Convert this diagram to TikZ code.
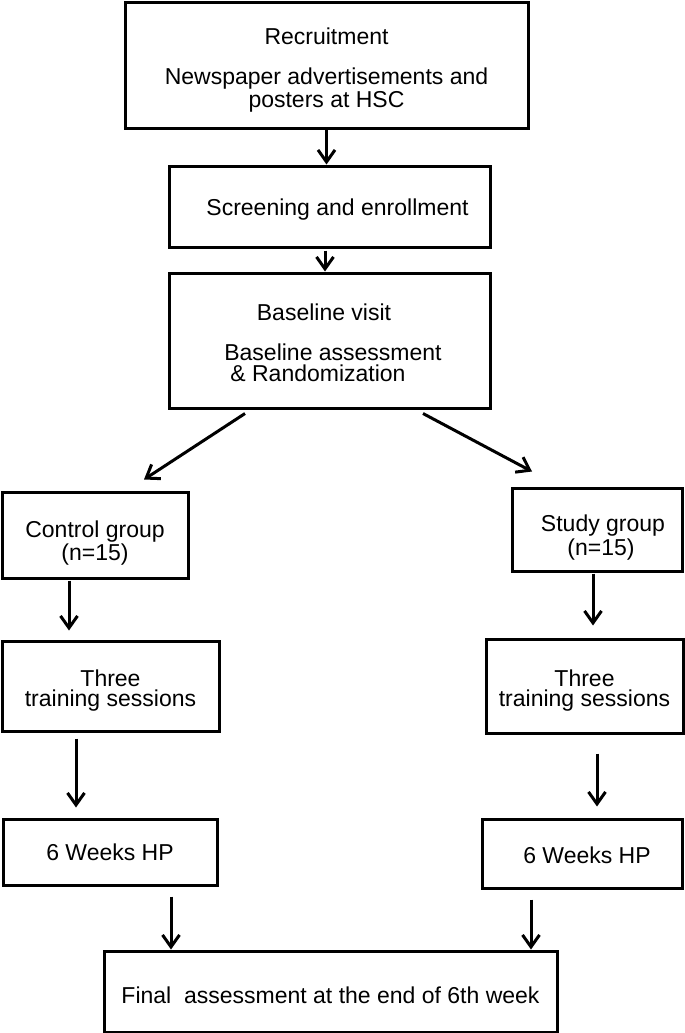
\documentclass[tikz,border=0pt]{standalone}
\usepackage{fontspec}
\setmainfont{Liberation Sans}
\usetikzlibrary{arrows.meta,calc}

\newcommand{\dn}[1]{\rule{0pt}{#1}}

\tikzset{
  box/.style={draw, line width=1.5pt, align=center, inner sep=0pt,
    font=\fontsize{11.5}{10.3}\selectfont},
  arr/.style={line width=1.5pt, -{Straight Barb[length=6pt,width=8.5pt]}}
}

\begin{document}
\begin{tikzpicture}[x=0.5pt,y=-0.5pt]
      \useasboundingbox (0,0) rectangle (685,1033);

      % top of the flow
      \node [box, minimum width=201.5pt, minimum height=63pt] (recruit) at (326.5,65)
        {\dn{13.5pt}Recruitment\\[9.7pt]Newspaper advertisements and\\posters at HSC};
      \node [box, minimum width=160.5pt, minimum height=40.5pt] (screen) at (329.5,206.5)
        {\dn{11.5pt}\hspace*{8pt}Screening and enrollment};
      \node [box, minimum width=160.5pt, minimum height=67.5pt] (base) at (329.5,340.5)
        {\dn{10.5pt}\hspace*{-5.5pt}Baseline visit\\[9.7pt]\hspace*{3.5pt}Baseline assessment\\\hspace*{-11.5pt}\& Randomization};

      % two groups
      \node [box, minimum width=93pt, minimum height=43pt] (ctrl) at (95,535)
        {\dn{16.5pt}Control group\\(n=15)};
      \node [box, minimum width=85pt, minimum height=41.5pt] (study) at (597,529.5)
        {\dn{16.5pt}\hspace*{6pt}Study group\\\hspace*{4pt}(n=15)};

      \node [box, minimum width=108.5pt, minimum height=45pt] (trL) at (110.5,686)
        {\dn{13pt}Three\\training sessions};
      \node [box, minimum width=98.5pt, minimum height=47pt] (trR) at (584.5,686)
        {\dn{13pt}Three\\training sessions};

      \node [box, minimum width=107pt, minimum height=33pt] (hpL) at (110,852)
        {6 Weeks HP};
      \node [box, minimum width=100pt, minimum height=34.5pt] (hpR) at (582,853.5)
        {\dn{10.5pt}\hspace*{5pt}6 Weeks HP};

      \node [box, minimum width=226.5pt, minimum height=40.5pt] (final) at (330.5,991.5)
        {\dn{12.5pt}Final\ \ assessment at the end of 6th week};

      % arrows
      \draw [arr] (recruit.south) -- (recruit.south |- screen.north);
      \draw [arr] ($(screen.south)+(-4.5,2)$) -- ($(screen.south |- base.north)+(-4.5,0)$);
      \draw [arr] ($(base.south)+(-84.5,4)$) -- ($(ctrl.north)+(49,-11)$);
      \draw [arr] ($(base.south)+(93.5,4)$) -- ($(study.north)+(-65,-15)$);
      \draw [arr] ($(ctrl.south)+(-26,1)$) -- ($(trL.north)+(-41.5,-9)$);
      \draw [arr] ($(study.south)+(-4,1)$) -- ($(trR.north)+(8.5,-12)$);
      \draw [arr] ($(trL.south)+(-34.5,6)$) -- ($(hpL.north)+(-34,-10)$);
      \draw [arr] ($(trR.south)+(12.5,19)$) -- ($(hpR.north)+(15,-11)$);
      \draw [arr] ($(hpL.south)+(61,10)$) -- ($(final.north)+(-159.5,0)$);
      \draw [arr] ($(hpR.south)+(-51,10)$) -- ($(final.north)+(200.5,0)$);

\end{tikzpicture}
\end{document}
